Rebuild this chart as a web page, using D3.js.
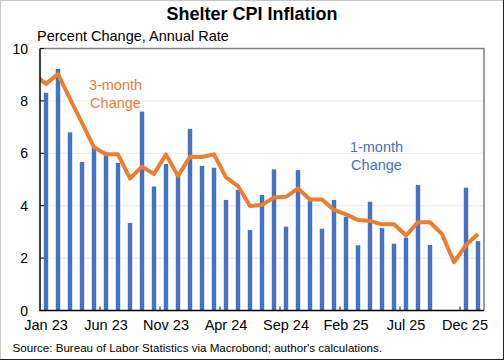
<!DOCTYPE html>
<html><head><meta charset="utf-8">
<script src="https://cdn.jsdelivr.net/npm/d3@7"></script>
<style>body{margin:0;background:#fff}svg{display:block;font-family:"Liberation Sans",Arial,sans-serif}</style>
</head><body><svg id="c" width="504" height="360"></svg>
<script>
// Months Jan 23 .. Jan 26
const months = ["Jan 23","Feb 23","Mar 23","Apr 23","May 23","Jun 23","Jul 23","Aug 23","Sep 23","Oct 23","Nov 23","Dec 23",
"Jan 24","Feb 24","Mar 24","Apr 24","May 24","Jun 24","Jul 24","Aug 24","Sep 24","Oct 24","Nov 24","Dec 24",
"Jan 25","Feb 25","Mar 25","Apr 25","May 25","Jun 25","Jul 25","Aug 25","Sep 25","Oct 25","Nov 25","Dec 25","Jan 26"];
const oneMonth = [8.31,9.22,6.80,5.67,6.20,5.95,5.63,3.34,7.59,4.73,5.59,5.15,
6.93,5.52,5.45,4.22,4.60,3.07,4.41,5.39,3.20,5.36,4.19,3.12,
4.22,3.58,2.49,4.15,3.15,2.55,2.78,4.79,2.50,null,null,4.69,2.65];
const threeMonthPrior = 9.0; // Dec 22
const threeMonth = [8.65,9.02,8.08,7.16,6.23,5.96,5.96,5.04,5.49,5.21,5.96,5.13,
5.87,5.86,5.96,5.08,4.75,3.99,4.03,4.31,4.34,4.66,4.24,4.24,
3.84,3.67,3.45,3.42,3.29,3.29,2.86,3.37,3.37,2.92,1.84,2.50,2.92];
const xTickLabels = ["Jan 23","Jun 23","Nov 23","Apr 24","Sep 24","Feb 25","Jul 25","Dec 25"];
const yTicks = [0,2,4,6,8,10];

const svg = d3.select("#c");
const L=40, R=484, T=48.5, B=310.5;
const BLUE="#4472C4", ORANGE="#ED7D31";

const x = d3.scaleBand().domain(months).range([L,R]).paddingInner(0.63).paddingOuter(0.315);
const step = x.step();
const cx = m => x(m) + x.bandwidth()/2;
const y = d3.scaleLinear().domain([0,10]).range([B,T]);

// outer frame
svg.append("line").attr("x1",0).attr("x2",504).attr("y1",0.5).attr("y2",0.5).attr("stroke","#c8c8c8");
svg.append("line").attr("x1",0.5).attr("x2",0.5).attr("y1",0).attr("y2",360).attr("stroke","#c8c8c8");
svg.append("line").attr("x1",503.5).attr("x2",503.5).attr("y1",0).attr("y2",360).attr("stroke","#222");
svg.append("line").attr("x1",0).attr("x2",504).attr("y1",359.5).attr("y2",359.5).attr("stroke","#222");

// gridlines
svg.append("g").selectAll("line").data(yTicks.filter(d=>d>0&&d<10)).join("line")
  .attr("x1",L).attr("x2",R).attr("y1",d=>y(d)).attr("y2",d=>y(d))
  .attr("stroke","#ececec").attr("stroke-width",1);

// bars
svg.append("g").selectAll("rect").data(months.map((m,i)=>({m,v:oneMonth[i]})).filter(d=>d.v!=null)).join("rect")
  .attr("x",d=>x(d.m)).attr("width",x.bandwidth())
  .attr("y",d=>y(d.v)).attr("height",d=>y(0)-y(d.v)).attr("fill",BLUE);

// clip
svg.append("clipPath").attr("id","pc").append("rect").attr("x",L).attr("y",T).attr("width",R-L).attr("height",B-T);

const linePts = [[cx(months[0])-step, threeMonthPrior]].concat(months.map((m,i)=>[cx(m), threeMonth[i]]));
svg.append("path").attr("clip-path","url(#pc)")
  .attr("d", d3.line().x(d=>d[0]).y(d=>y(d[1]))(linePts))
  .attr("fill","none").attr("stroke",ORANGE).attr("stroke-width",4).attr("stroke-linejoin","round");

// plot border: top/right gray
svg.append("path").attr("d",`M${L},${T}H${R}V${B}`).attr("fill","none").attr("stroke","#7f7f7f").attr("stroke-width",1.5);
// axes
svg.append("line").attr("x1",L).attr("x2",L).attr("y1",T).attr("y2",B).attr("stroke","#000").attr("stroke-width",1.5);
svg.append("line").attr("x1",L-0.75).attr("x2",R).attr("y1",B).attr("y2",B).attr("stroke","#000").attr("stroke-width",1.5);

// y ticks
const yg = svg.append("g");
yg.selectAll("line").data(yTicks).join("line").attr("x1",L).attr("x2",L+4).attr("y1",d=>y(d)).attr("y2",d=>y(d)).attr("stroke","#000");
yg.selectAll("text").data(yTicks).join("text").attr("x",28).attr("y",d=>y(d)).attr("dy","0.36em")
  .attr("text-anchor","end").attr("font-size",14).attr("fill","#000").text(d=>d);

// x ticks
const xg = svg.append("g");
xg.selectAll("line").data(xTickLabels.slice(1)).join("line")
  .attr("x1",d=>x(d)-x.paddingInner()*step/2).attr("x2",d=>x(d)-x.paddingInner()*step/2)
  .attr("y1",B-4).attr("y2",B).attr("stroke","#000");
xg.selectAll("text").data(xTickLabels).join("text")
  .attr("x",d=>Math.min(cx(d), 488 - 23)).attr("y",329.5)
  .attr("text-anchor","middle").attr("font-size",14.5).attr("fill","#000").text(d=>d);

// titles
svg.append("text").attr("x",252).attr("y",19.5).attr("text-anchor","middle").attr("font-weight","bold").attr("font-size",18).text("Shelter CPI Inflation");
svg.append("text").attr("x",37).attr("y",40.5).attr("font-size",14.5).text("Percent Change, Annual Rate");
svg.append("text").attr("x",12.5).attr("y",351.5).attr("font-size",11.6).text("Source: Bureau of Labor Statistics via Macrobond; author's calculations.");

// annotations
const ann = [{t:["3-month","Change"],c:ORANGE,x:115.5,y:90},{t:["1-month","Change"],c:BLUE,x:376.5,y:152}];
ann.forEach(a=>{
  const tx = svg.append("text").attr("text-anchor","middle").attr("font-size",14.5).attr("fill",a.c);
  a.t.forEach((s,i)=>tx.append("tspan").attr("x",a.x).attr("y",a.y+i*17.7).text(s));
});
</script></body></html>
